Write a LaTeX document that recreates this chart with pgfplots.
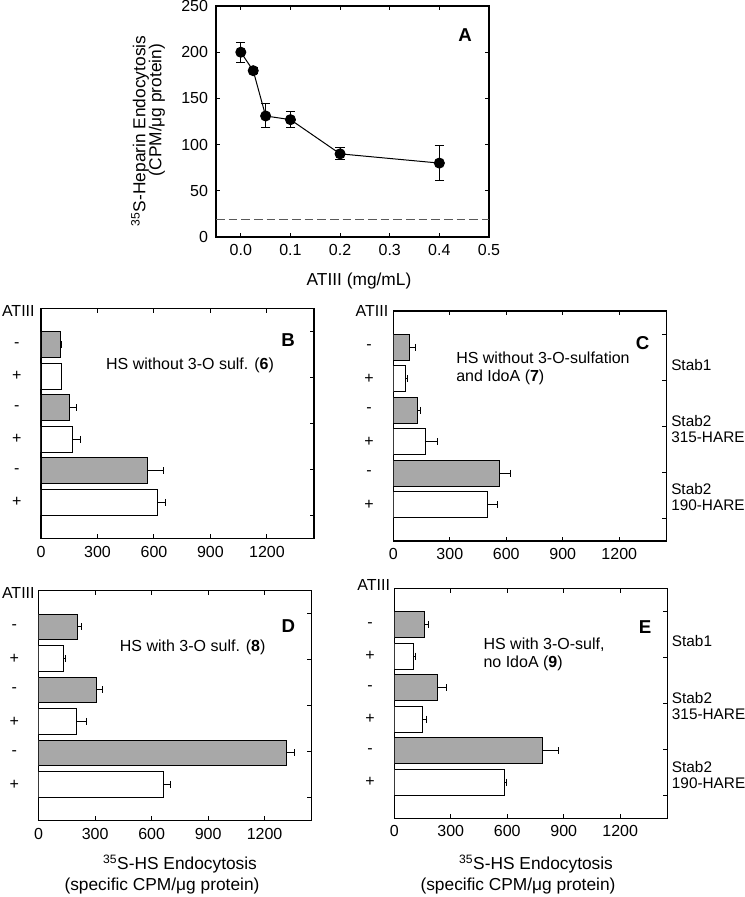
\documentclass[border=0pt]{standalone}
\usepackage{fontspec}
\setmainfont{Liberation Sans}
\usepackage{pgfplots}
\pgfplotsset{compat=1.18}
\definecolor{bgray}{HTML}{A8A8A8}
\newcommand\tkf{\fontsize{12}{13}\selectfont}
\newcommand\lbf{\fontsize{13}{15}\selectfont}
\newcommand\atf{\fontsize{12}{13}\selectfont}
\newcommand\txf{\fontsize{12}{13.3}\selectfont}
\newcommand\stf{\fontsize{11.5}{12}\selectfont}
\newcommand\bgf{\fontsize{14}{16}\selectfont\bfseries}
\newcommand\rticks{\draw[line width=0.75pt] (axis description cs:1,0.1) -- ++(-3.2pt,0pt) (axis description cs:1,0.3) -- ++(-3.2pt,0pt) (axis description cs:1,0.5) -- ++(-3.2pt,0pt) (axis description cs:1,0.7) -- ++(-3.2pt,0pt) (axis description cs:1,0.9) -- ++(-3.2pt,0pt);}
\pgfplotsset{
  every axis/.append style={scale only axis, axis line style={line width=0.9pt}, tick style={line width=0.75pt, black}, major tick length=3.2pt, tick align=inside, /pgf/number format/assume math mode=true, /pgf/number format/1000 sep={}, tick label style={font=\tkf}, xticklabel style={yshift=-2pt}},
  barpanel/.style={anchor=south west, width=204.75pt, height=172.5pt, xmin=0, xmax=1450, ymin=-0.15, ymax=7.15, y dir=reverse, xtick={0,300,600,900,1200}, xtick pos=both, ytick={1,2,3,4,5,6}, yticklabels={-,+,-,+,-,+}, ytick pos=left, ytick style={draw=none}, yticklabel style={anchor=center, xshift=-15pt}, xbar, bar width=19.3pt, bar shift=0pt},
  barg/.style={draw=black, fill=bgray, line width=0.7pt, error bars/.cd, x dir=plus, x explicit, error bar style={line width=0.75pt, black}, error mark options={rotate=90, mark size=2.6pt, line width=0.75pt, black}},
  barw/.style={draw=black, fill=white, line width=0.7pt, error bars/.cd, x dir=plus, x explicit, error bar style={line width=0.75pt, black}, error mark options={rotate=90, mark size=2.6pt, line width=0.75pt, black}},
}
\begin{document}
\begin{tikzpicture}
\useasboundingbox (0,0) rectangle (558.75pt,-672.75pt);
% Panel A
\begin{axis}[at={(162pt,-177.75pt)}, anchor=south west, width=204.75pt, height=173.25pt,
  xmin=-0.05, xmax=0.5, ymin=0, ymax=250, xtick={0,0.1,0.2,0.3,0.4,0.5}, ytick={0,50,100,150,200,250},
  xticklabel style={/pgf/number format/.cd, fixed, fixed zerofill, precision=1}, yticklabel style={xshift=-2.5pt}, tick pos=both]
\addplot[color=black!65, line width=0.75pt, dash pattern=on 6.5pt off 3pt] coordinates {(-0.05,19) (0.5,19)};
\addplot[black, line width=0.75pt, mark=*, mark size=3.75pt, mark options={fill=black},
  error bars/.cd, y dir=both, y explicit, error bar style={line width=0.75pt}, error mark options={rotate=90, mark size=3.5pt, line width=0.75pt, black}]
  table[x=x, y=y, y error=e]{
x y e
0 200 11
0.025 180 3
0.05 131 13
0.1 127 9
0.2 90 6.5
0.4 80 18.5
};
\end{axis}
\node[font=\bgf] at (465*0.75pt,-35*0.75pt) {A};
\node[font=\lbf, rotate=90] at (140*0.75pt,-131*0.75pt) {\textsuperscript{35}S-Heparin Endocytosis};
\node[font=\lbf, rotate=90] at (157*0.75pt,-110*0.75pt) {(CPM/μg protein)};
\node[font=\lbf] at (359*0.75pt,-281*0.75pt) {ATIII (mg/mL)};

% Panel B
\begin{axis}[barpanel, at={(30.75pt,-403.9pt)}]
\addplot[barg] table[x=v, y=p, x error=e]{
p v e
1 104 5
3 152 38
5 563 88
};
\addplot[barw] table[x=v, y=p, x error=e]{
p v e
2 107 2
4 169 43
6 621 42
};
\rticks
\end{axis}
\node[font=\bgf] at (288*0.75pt,-340*0.75pt) {B};
\node[font=\txf] at (190*0.75pt,-365.7*0.75pt) {HS without 3-O sulf. (\textbf{6})};
\node[font=\atf] at (18.3*0.75pt,-310.7*0.75pt) {ATIII};

% Panel C
\begin{axis}[barpanel, at={(295pt,-405.75pt)}]
\addplot[barg] table[x=v, y=p, x error=e]{
p v e
1 88 32
3 130 16
5 562 59
};
\addplot[barw] table[x=v, y=p, x error=e]{
p v e
2 64 9
4 168 64
6 500 55
};
\rticks
\end{axis}
\node[font=\bgf] at (642.7*0.75pt,-343*0.75pt) {C};
\node[font=\txf, align=left, anchor=west, inner sep=0pt] at (456*0.75pt,-368*0.75pt) {HS without 3-O-sulfation\\and IdoA (\textbf{7})};
\node[font=\atf] at (372*0.75pt,-310.7*0.75pt) {ATIII};
\node[font=\stf, align=left, anchor=west, inner sep=0pt] at (671*0.75pt,-365*0.75pt) {Stab1};
\node[font=\stf, align=left, anchor=west, inner sep=0pt] at (671*0.75pt,-429.2*0.75pt) {Stab2\\315-HARE};
\node[font=\stf, align=left, anchor=west, inner sep=0pt] at (671*0.75pt,-497.5*0.75pt) {Stab2\\190-HARE};

% Panel D
\begin{axis}[barpanel, at={(29pt,-615.5pt)}]
\addplot[barg] table[x=v, y=p, x error=e]{
p v e
1 208 18
3 308 31
5 1318 39
};
\addplot[barw] table[x=v, y=p, x error=e]{
p v e
2 131 10
4 203 50
6 665 33
};
\rticks
\end{axis}
\node[font=\bgf] at (288.3*0.75pt,-626*0.75pt) {D};
\node[font=\txf] at (192.7*0.75pt,-647.7*0.75pt) {HS with 3-O sulf. (\textbf{8})};
\node[font=\atf] at (18.3*0.75pt,-593.3*0.75pt) {ATIII};
\node[font=\lbf] at (180*0.75pt,-864*0.75pt) {\textsuperscript{35}S-HS Endocytosis};
\node[font=\lbf] at (162*0.75pt,-886*0.75pt) {(specific CPM/μg protein)};

% Panel E
\begin{axis}[barpanel, at={(295.7pt,-613.8pt)}]
\addplot[barg] table[x=v, y=p, x error=e]{
p v e
1 161 23
3 231 44
5 789 85
};
\addplot[barw] table[x=v, y=p, x error=e]{
p v e
2 101 10
4 152 21
6 586 12
};
\rticks
\end{axis}
\node[font=\bgf] at (645*0.75pt,-627.3*0.75pt) {E};
\node[font=\txf, align=left, anchor=west, inner sep=0pt] at (483.3*0.75pt,-654.5*0.75pt) {HS with 3-O-sulf,\\no IdoA (\textbf{9})};
\node[font=\atf] at (373.7*0.75pt,-585*0.75pt) {ATIII};
\node[font=\stf, align=left, anchor=west, inner sep=0pt] at (671.7*0.75pt,-640.7*0.75pt) {Stab1};
\node[font=\stf, align=left, anchor=west, inner sep=0pt] at (671.7*0.75pt,-705.8*0.75pt) {Stab2\\315-HARE};
\node[font=\stf, align=left, anchor=west, inner sep=0pt] at (671.7*0.75pt,-775*0.75pt) {Stab2\\190-HARE};
\node[font=\lbf] at (536*0.75pt,-864*0.75pt) {\textsuperscript{35}S-HS Endocytosis};
\node[font=\lbf] at (518*0.75pt,-886*0.75pt) {(specific CPM/μg protein)};
\end{tikzpicture}
\end{document}
